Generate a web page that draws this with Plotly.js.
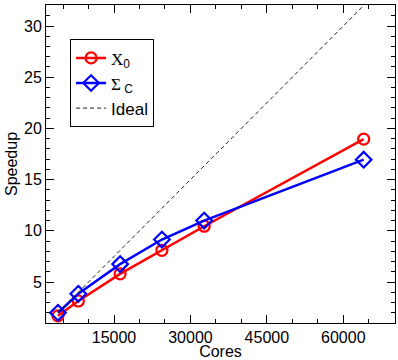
<!DOCTYPE html>
<html>
<head>
<meta charset="utf-8">
<script src="https://cdn.plot.ly/plotly-3.0.1.min.js"></script>
<style>
  body { margin: 0; background: #fff; }
  #plot { width: 398px; height: 360px; }
</style>
</head>
<body>
<div id="plot"></div>
<script>
// cores used in the runs
var cores = [4000, 8000, 16200, 24400, 32700, 64000];
var speedupX0 = [1.7, 3.15, 5.8, 8.1, 10.45, 18.95];
var speedupSigma = [2.0, 3.85, 6.75, 9.15, 11.0, 16.95];
var idealCores = [4000, 64000];
var idealSpeedup = [2, 32];

var axisFont = {family: "Liberation Sans, Arial, sans-serif", size: 16, color: "#000"};

var trace1 = {
  x: cores,
  y: speedupX0,
  name: "<span style='font-family:Liberation Serif'>X</span><sub>0</sub>",
  mode: "lines+markers",
  line: {color: "#ff0000", width: 2.5},
  marker: {symbol: "circle-open", size: 11, color: "#ff0000", line: {width: 2.2}}
};

var trace2 = {
  x: cores,
  y: speedupSigma,
  name: "<span style='font-family:Liberation Serif'>Σ</span><sub> C</sub>",
  mode: "lines+markers",
  line: {color: "#0000ff", width: 2.5},
  marker: {symbol: "diamond-open", size: 12, color: "#0000ff", line: {width: 2.2}}
};

var trace3 = {
  x: idealCores,
  y: idealSpeedup,
  name: "Ideal",
  mode: "lines",
  line: {color: "#222", width: 1, dash: "4px,3px"}
};

var layout = {
  width: 398,
  height: 360,
  margin: {l: 46, r: 3, t: 5, b: 37},
  paper_bgcolor: "#fff",
  plot_bgcolor: "#fff",
  font: axisFont,
  showlegend: true,
  legend: {
    x: 0.069, y: 0.892, xanchor: "left", yanchor: "top",
    bgcolor: "#fff", bordercolor: "#000", borderwidth: 1,
    font: {family: "Liberation Sans, Arial, sans-serif", size: 17, color: "#000"},
    tracegroupgap: 0,
    itemwidth: 30
  },
  xaxis: {
    title: {text: "Cores", font: axisFont, standoff: 0},
    range: [1650, 70150],
    tickvals: [15000, 30000, 45000, 60000],
    ticktext: ["15000", "30000", "45000", "60000"],
    ticks: "inside", ticklen: 8, tickcolor: "#000",
    minor: {dtick: 5000, tick0: 0, ticks: "inside", ticklen: 4, tickcolor: "#000"},
    showline: true, linecolor: "#000", linewidth: 1, mirror: "allticks",
    showgrid: false, zeroline: false,
    automargin: false,
    tickfont: axisFont
  },
  yaxis: {
    title: {text: "Speedup", font: axisFont, standoff: 2},
    range: [1, 32.05],
    tickvals: [5, 10, 15, 20, 25, 30],
    ticks: "inside", ticklen: 8, tickcolor: "#000",
    minor: {dtick: 1, tick0: 0, ticks: "inside", ticklen: 4, tickcolor: "#000"},
    showline: true, linecolor: "#000", linewidth: 1, mirror: "allticks",
    showgrid: false, zeroline: false,
    automargin: false,
    tickfont: axisFont
  }
};

Plotly.newPlot("plot", [trace1, trace2, trace3], layout, {displayModeBar: false});
</script>
</body>
</html>
